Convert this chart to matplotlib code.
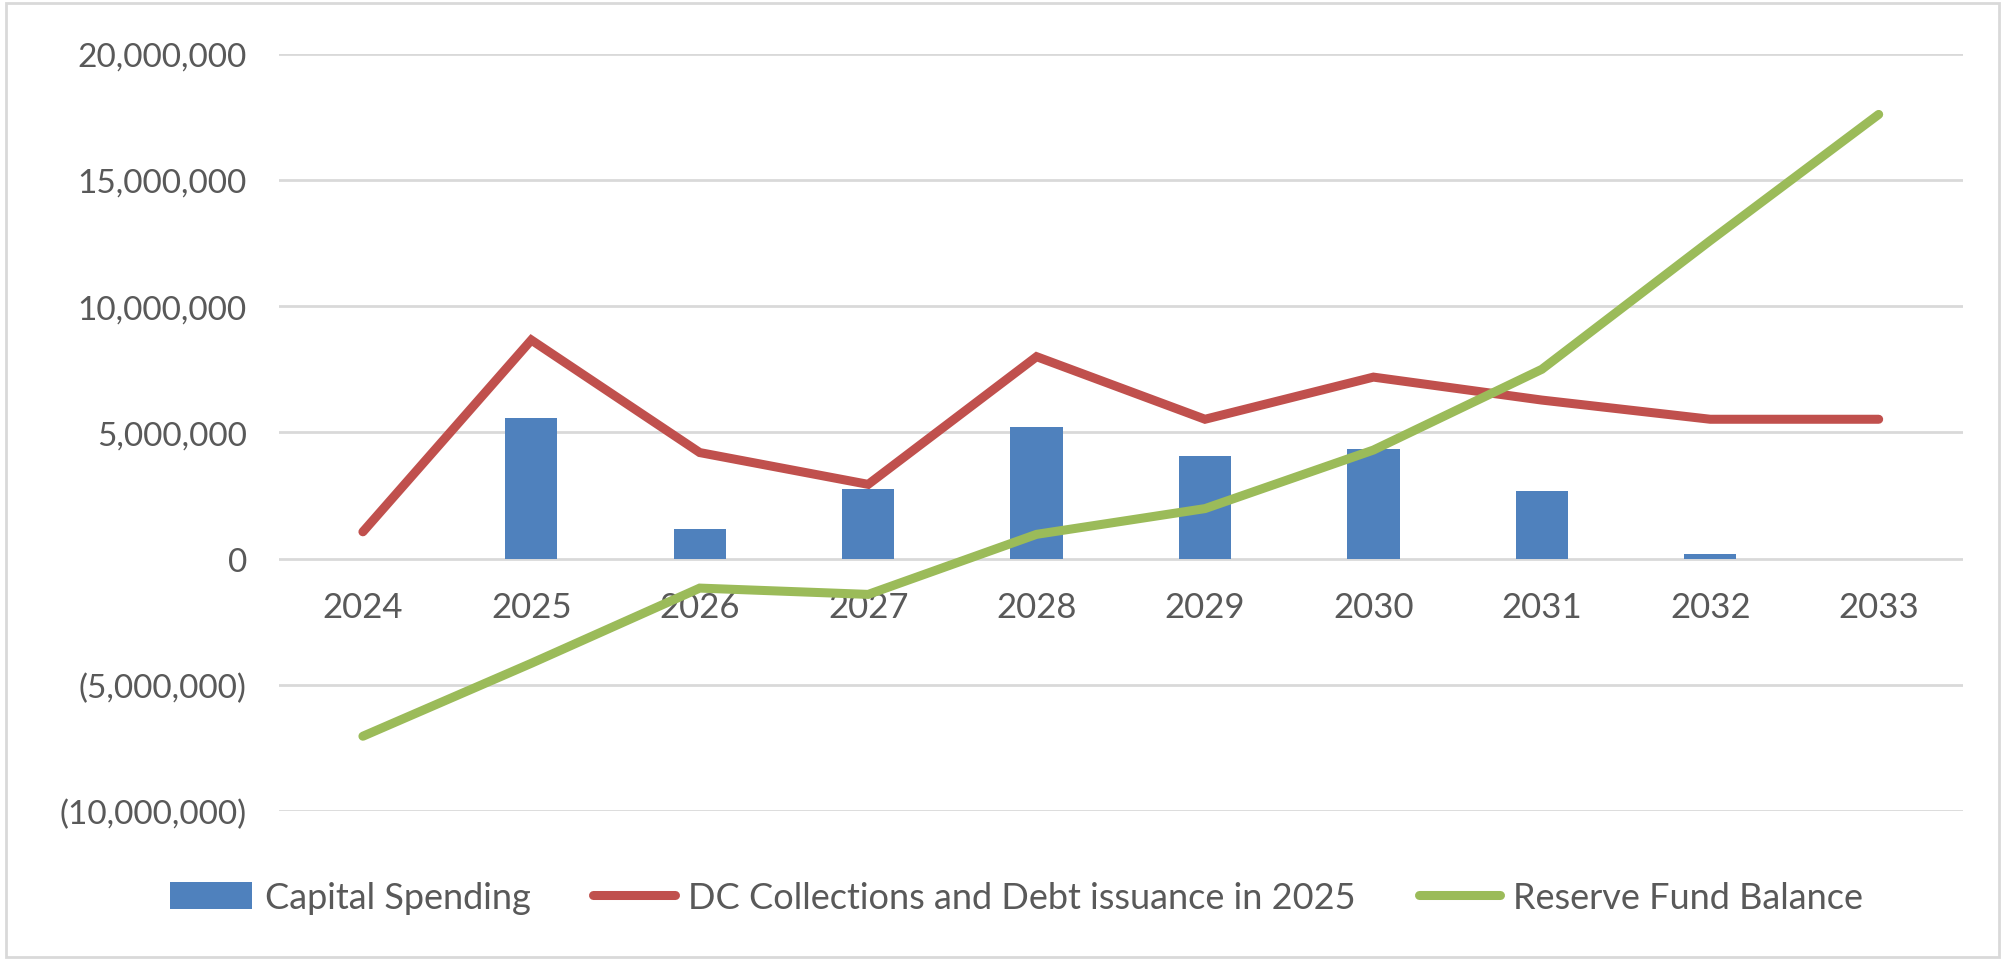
import matplotlib
matplotlib.use("Agg")
import matplotlib.pyplot as plt
from matplotlib.patches import Rectangle
from matplotlib.ticker import FuncFormatter
import numpy as np

plt.rcParams['font.family'] = ['Lato', 'DejaVu Sans']

years = ['2024', '2025', '2026', '2027', '2028', '2029', '2030', '2031', '2032', '2033']
capital_spending = [0, 5570000, 1170000, 2740000, 5220000, 4050000, 4360000, 2680000, 200000, 0]
dc_collections = [1060000, 8660000, 4200000, 2940000, 8000000, 5520000, 7190000, 6280000, 5520000, 5520000]
reserve_balance = [-7040000, -4150000, -1170000, -1420000, 960000, 1980000, 4300000, 7500000, 12600000, 17600000]

text_col = '#595959'
grid_col = '#D9D9D9'


def fmt(v, pos):
    if v < 0:
        return '({:,.0f})'.format(-v)
    return '{:,.0f}'.format(v)


fig = plt.figure(figsize=(20.05, 9.62), dpi=100)
ax = fig.add_axes([0.139, 0.156, 0.840, 0.787])

x = np.arange(len(years))
ax.bar(x, capital_spending, width=0.31, color='#4F81BD', label='Capital Spending', zorder=2)
ax.plot(x, dc_collections, color='#C0504D', lw=6.5, solid_capstyle='round',
        solid_joinstyle='miter', label='DC Collections and Debt issuance in 2025', zorder=3)
ax.plot(x, reserve_balance, color='#9BBB59', lw=6.5, solid_capstyle='round',
        solid_joinstyle='miter', label='Reserve Fund Balance', zorder=4)

ax.set_xlim(-0.5, len(years) - 0.5)
ax.set_ylim(-10000000, 20000000)
ax.set_yticks(np.arange(-10000000, 20000001, 5000000))
ax.yaxis.set_major_formatter(FuncFormatter(fmt))
ax.set_xticks(x)
ax.set_xticklabels(years)

ax.grid(axis='y', color=grid_col, lw=2, zorder=0)
ax.set_axisbelow(True)
for side in ['top', 'right', 'left']:
    ax.spines[side].set_visible(False)
ax.spines['bottom'].set_position(('data', 0))
ax.spines['bottom'].set_visible(False)
ax.tick_params(axis='both', length=0, labelcolor=text_col)
ax.tick_params(axis='y', pad=23, labelsize=24)
ax.tick_params(axis='x', pad=23, labelsize=25)

handles, labels = ax.get_legend_handles_labels()
order = [labels.index('Capital Spending'),
         labels.index('DC Collections and Debt issuance in 2025'),
         labels.index('Reserve Fund Balance')]
fig.legend([handles[i] for i in order], [labels[i] for i in order],
           loc='center', bbox_to_anchor=(0.507, 0.066), ncol=3, frameon=False,
           fontsize=26, labelcolor=text_col, handlelength=2.25, handleheight=0.8,
           handletextpad=0.36, columnspacing=1.75)

# light frame round the whole chart
fig.patches.append(Rectangle((0.003, 0.004), 0.994, 0.992, transform=fig.transFigure,
                             fill=False, edgecolor='#D9D9D9', lw=2))

fig.savefig('out.png', dpi=100)
